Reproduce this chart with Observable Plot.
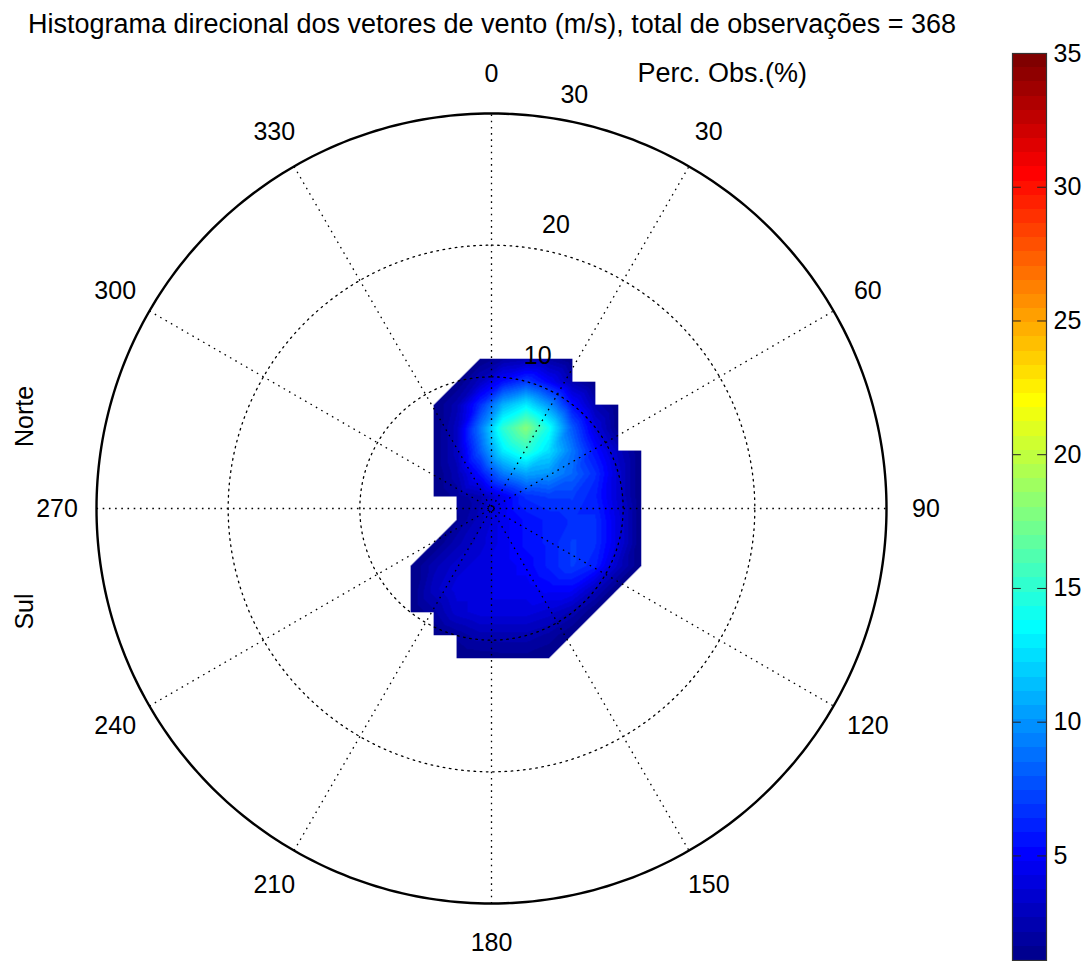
<!DOCTYPE html>
<html>
<head>
<meta charset="utf-8">
<script src="https://cdn.jsdelivr.net/npm/d3@7"></script>
<script src="https://cdn.jsdelivr.net/npm/@observablehq/plot@0.6"></script>
<style>
  html, body { margin: 0; padding: 0; background: #fff; }
  #wrap { position: relative; width: 1092px; height: 961px; overflow: hidden; }
  #main, #cbar { position: absolute; top: 0; }
  #main { left: 0; }
  #cbar { left: 990px; }
</style>
</head>
<body>
<div id="wrap"><div id="main"></div><div id="cbar"></div></div>
<script>
// ---------------- data ----------------
const title = "Histograma direcional dos vetores de vento (m/s), total de observações = 368";
const radialTitle = "Perc. Obs.(%)";
const sideLabels = ["Norte", "Sul"];
const angleTicks = [0, 30, 60, 90, 120, 150, 180, 210, 240, 270, 300, 330];
const ringTicks = [10, 20, 30];
const colorTicks = [5, 10, 15, 20, 25, 30, 35];
const colorDomain = [1.09, 35];

// grid nodes (west->east, north->south), same units as the radial axis
const uNodes = [-11.375, -9.625, -7.875, -6.125, -4.375, -2.625, -0.875, 0.875, 2.625, 4.375, 6.125, 7.875, 9.625, 11.375];
const vNodes = [11.375, 9.625, 7.875, 6.125, 4.375, 2.625, 0.875, -0.875, -2.625, -4.375, -6.125, -7.875, -9.625, -11.375];
const n = null;
// percentage of observations at each node (null = no observations)
const row00 = [n, n, n, n, n, n, 1.0, 2, 2.5, 2, 1.0, n, n, n];
const row01 = [n, n, n, n, n, 1.0, 3, 5.5, 7, 5, 2.5, 1.0, n, n];
const row02 = [n, n, n, n, 1.0, 2.5, 6.5, 11, 13, 10, 5.5, 2.5, 1.0, n];
const row03 = [n, n, n, n, 1.0, 3, 9, 15, 18, 14, 8, 4, 1.2, n];
const row04 = [n, n, n, n, 1.0, 3, 8, 13, 15, 12.5, 9, 5.5, 3, 1.0];
const row05 = [n, n, n, n, 1.0, 2.5, 5.5, 9, 10.5, 10, 8.5, 6.5, 3.5, 1.0];
const row06 = [n, n, n, n, 1.0, 1.8, 2.5, 4.5, 6.5, 7, 7, 6, 3.5, 1.0];
const row07 = [n, n, n, n, n, 1.5, 3, 4.5, 5.5, 6, 6.5, 6.5, 4, 1.0];
const row08 = [n, n, n, n, 1.0, 2.5, 3.5, 4.5, 5.5, 6, 7, 6.5, 4, 1.0];
const row09 = [n, n, n, 1.0, 2.5, 3.5, 4, 4.5, 5, 6, 7, 6, 3, 1.0];
const row10 = [n, n, n, 1.0, 3, 4, 4, 4.5, 4.5, 5, 5, 3, 1.0, n];
const row11 = [n, n, n, 1.0, 2, 3.5, 4, 4, 4, 3.5, 2.5, 1.0, n, n];
const row12 = [n, n, n, n, 1.0, 1.8, 2.5, 2.5, 2.5, 2, 1.0, n, n, n];
const row13 = [n, n, n, n, n, 1.0, 1.2, 1.4, 1.4, 1.0, n, n, n, n];
const grid = [row00, row01, row02, row03, row04, row05, row06, row07, row08, row09, row10, row11, row12, row13];

// ---------------- layout ----------------
const W = 1092, H = 961;
const cx = 491, cy = 508, Rpx = 395;
const rMax = ringTicks[ringTicks.length - 1];
const k = Rpx / rMax; // px per unit
const deg = Math.PI / 180;
const font = '"Liberation Sans", Arial, Helvetica, sans-serif';

// MATLAB-style jet(64)
function jet(m) {
  const nn = Math.ceil(m / 4);
  const u = [];
  for (let i = 1; i <= nn; i++) u.push(i / nn);
  for (let i = 1; i < nn; i++) u.push(1);
  for (let i = nn; i >= 1; i--) u.push(i / nn);
  const g0 = Math.ceil(nn / 2) - (m % 4 === 1 ? 1 : 0);
  const J = Array.from({length: m}, () => [0, 0, 0]);
  u.forEach((val, i) => {
    const g = g0 + i + 1, r = g + nn, b = g - nn;
    if (g >= 1 && g <= m) J[g - 1][1] = val;
    if (r >= 1 && r <= m) J[r - 1][0] = val;
    if (b >= 1 && b <= m) J[b - 1][2] = val;
  });
  return J.map(([r, g, b]) => d3.rgb(r * 255, g * 255, b * 255).formatHex());
}
const jetColors = jet(64);
const colorScale = {
  type: "linear",
  domain: colorDomain,
  clamp: true,
  interpolate: (t) => jetColors[Math.max(0, Math.min(63, Math.floor(t * 64)))]
};

// triangulated interpolation of the node grid (cells split along the "/" diagonal)
const u0 = uNodes[0], du = uNodes[1] - uNodes[0];
const v0 = vNodes[0], dv = vNodes[0] - vNodes[1];
function field(x, y) {
  const fc = (x - u0) / du, fr = (v0 - y) / dv;
  const c = Math.floor(fc), r = Math.floor(fr);
  if (c < 0 || r < 0 || c >= uNodes.length - 1 || r >= vNodes.length - 1) return NaN;
  const s = fc - c, t = fr - r;
  const TL = grid[r][c], TR = grid[r][c + 1], BL = grid[r + 1][c], BR = grid[r + 1][c + 1];
  if (s + t <= 1) {
    if (TL == null || TR == null || BL == null) return NaN;
    return TL + s * (TR - TL) + t * (BL - TL);
  }
  if (TR == null || BR == null || BL == null) return NaN;
  return BR + (1 - s) * (BL - BR) + (1 - t) * (TR - BR);
}

const circle = (r) => d3.range(0, 361, 1).map((a) => ({r, a}));
const px = (d) => d.r * Math.sin(d.a * deg);
const py = (d) => d.r * Math.cos(d.a * deg);
const dots = "1.6,4.6";

const main = Plot.plot({
  width: W, height: H,
  margin: 0,
  x: {domain: [-cx / k, (W - cx) / k], range: [0, W], axis: null},
  y: {domain: [-(H - cy) / k, cy / k], range: [H, 0], axis: null},
  color: colorScale,
  style: {fontFamily: font, fontSize: "25px", background: "transparent", overflow: "visible"},
  marks: [
    Plot.raster({fill: field, x1: uNodes[0], x2: uNodes[uNodes.length - 1], y1: vNodes[vNodes.length - 1], y2: vNodes[0], pixelSize: 1}),
    Plot.line(ringTicks.filter((r) => r < rMax).flatMap(circle), {x: px, y: py, z: "r", stroke: "black", strokeWidth: 1.3, strokeDasharray: dots}),
    Plot.link(angleTicks.filter((a) => a < 180), {
      x1: (a) => -rMax * Math.sin(a * deg), y1: (a) => -rMax * Math.cos(a * deg),
      x2: (a) => rMax * Math.sin(a * deg), y2: (a) => rMax * Math.cos(a * deg),
      stroke: "black", strokeWidth: 1.3, strokeDasharray: dots
    }),
    Plot.line(circle(rMax), {x: px, y: py, stroke: "black", strokeWidth: 2.4}),
    Plot.text(angleTicks, {x: (a) => 1.1 * rMax * Math.sin(a * deg), y: (a) => 1.1 * rMax * Math.cos(a * deg), text: (a) => String(a), fontSize: 25, fill: "black"}),
    Plot.text(ringTicks, {x: (r) => (r + 0.5) * Math.sin(8 * deg), y: (r) => (r + 0.5) * Math.cos(8 * deg), text: (r) => String(r), textAnchor: "start", lineAnchor: "bottom", dx: 13, dy: -8, fontSize: 25, fill: "black"}),
    Plot.text([title], {text: (d) => d, frameAnchor: "top-left", dx: 491.5, dy: 13, textAnchor: "middle", lineAnchor: "top", fontSize: 27, fill: "black"}),
    Plot.text([radialTitle], {text: (d) => d, frameAnchor: "top-left", dx: 637, dy: 62, textAnchor: "start", lineAnchor: "top", fontSize: 27, fill: "black"}),
    Plot.text([sideLabels[0]], {text: (d) => d, frameAnchor: "top-left", dx: 24, dy: 416, rotate: -90, textAnchor: "middle", lineAnchor: "middle", fontSize: 25, fill: "black"}),
    Plot.text([sideLabels[1]], {text: (d) => d, frameAnchor: "top-left", dx: 24, dy: 611, rotate: -90, textAnchor: "middle", lineAnchor: "middle", fontSize: 25, fill: "black"})
  ]
});
document.getElementById("main").appendChild(main);

// ---------------- colour bar ----------------
const nb = jetColors.length;
const step = (colorDomain[1] - colorDomain[0]) / nb;
const bands = d3.range(nb).map((i) => ({lo: colorDomain[0] + i * step, hi: colorDomain[0] + (i + 1) * step}));
const cbar = Plot.plot({
  width: 102, height: H,
  marginLeft: 22, marginRight: 46, marginTop: 53, marginBottom: 1,
  x: {domain: [0, 1], axis: null},
  y: {domain: colorDomain, axis: null},
  color: colorScale,
  style: {fontFamily: font, fontSize: "25px", background: "transparent", overflow: "visible"},
  marks: [
    Plot.rect(bands, {x1: 0, x2: 1, y1: "lo", y2: "hi", fill: (d) => (d.lo + d.hi) / 2, shapeRendering: "crispEdges"}),
    Plot.ruleY(colorTicks, {x1: 0, x2: 0.26, stroke: "#222", strokeWidth: 1}),
    Plot.ruleY(colorTicks, {x1: 0.74, x2: 1, stroke: "#222", strokeWidth: 1}),
    Plot.frame({stroke: "#333", strokeWidth: 1.2}),
    Plot.axisY(colorTicks, {anchor: "right", tickSize: 0, tickPadding: 7, label: null, fontSize: 25, tickFormat: (d) => String(d)})
  ]
});
document.getElementById("cbar").appendChild(cbar);
</script>
</body>
</html>
